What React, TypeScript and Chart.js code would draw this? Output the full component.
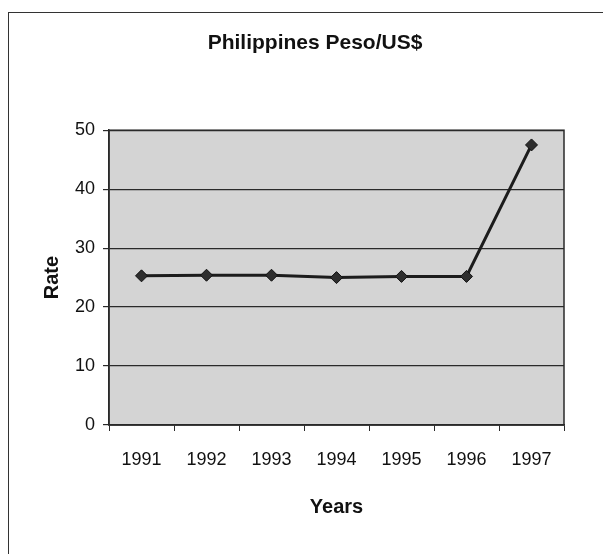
import React, { useEffect, useRef } from "react";
import { Chart, registerables } from "chart.js";

Chart.register(...registerables);

const years = ["1991", "1992", "1993", "1994", "1995", "1996", "1997"];
const rates = [25.3, 25.4, 25.4, 25.0, 25.2, 25.2, 47.5];
const titleText = "Philippines Peso/US$";
const xTitle = "Years";
const yTitle = "Rate";

const FONT = "'Liberation Sans', Arial, sans-serif";
const W = 594;
const H = 541;

const plotFrame = {
  id: "plotFrame",
  beforeDraw(chart: any) {
    const { ctx, chartArea: a } = chart;
    ctx.save();
    ctx.fillStyle = "#d4d4d4";
    ctx.fillRect(a.left, a.top, a.right - a.left, a.bottom - a.top);
    ctx.restore();
  },
  afterDatasetsDraw(chart: any) {
    const { ctx, chartArea: a } = chart;
    ctx.save();
    ctx.strokeStyle = "#2a2a2a";
    ctx.lineWidth = 1.5;
    ctx.strokeRect(a.left, a.top, a.right - a.left, a.bottom - a.top);
    ctx.restore();
  },
};

export default function App() {
  const ref = useRef<HTMLCanvasElement | null>(null);
  useEffect(() => {
    if (!ref.current) return;
    const chart = new Chart(ref.current, {
      type: "line",
      data: {
        labels: years,
        datasets: [
          {
            data: rates,
            borderColor: "#1c1c1c",
            borderWidth: 3,
            pointStyle: "rectRot",
            pointRadius: 6,
            pointBackgroundColor: "#2e2e2e",
            pointBorderColor: "#111",
            pointBorderWidth: 1,
            tension: 0,
            clip: false as any,
          },
        ],
      },
      plugins: [plotFrame],
      options: {
        animation: false,
        responsive: false,
        devicePixelRatio: 1,
        layout: { padding: { left: 18, right: 0, top: 0, bottom: 0 } },
        plugins: {
          legend: { display: false },
          tooltip: { enabled: false },
          title: {
            display: true,
            text: titleText,
            color: "#111",
            font: { family: FONT, size: 21, weight: "bold" },
            padding: { top: 18, bottom: 74 },
          },
        },
        scales: {
          x: {
            type: "category",
            offset: true,
            grid: {
              display: true,
              drawOnChartArea: false,
              offset: true,
              color: "#2a2a2a",
              tickLength: 6,
              lineWidth: 1,
            },
            border: { display: true, color: "#2a2a2a", width: 1.5 },
            ticks: {
              color: "#111",
              font: { family: FONT, size: 18 },
              padding: 18,
              maxRotation: 0,
              autoSkip: false,
            },
            title: {
              display: true,
              text: xTitle,
              color: "#111",
              font: { family: FONT, size: 20, weight: "bold" },
              padding: { top: 0, bottom: 35 },
            },
            afterFit: (s: any) => {
              s.height = 129;
            },
          },
          y: {
            type: "linear",
            position: "left",
            min: 0,
            max: 50,
            ticks: {
              stepSize: 10,
              color: "#111",
              font: { family: FONT, size: 18 },
              padding: 8,
            },
            grid: {
              color: "#2a2a2a",
              lineWidth: 1.2,
              tickLength: 6,
            },
            border: { display: true, color: "#2a2a2a", width: 1.5 },
            title: {
              display: true,
              text: yTitle,
              color: "#111",
              font: { family: FONT, size: 20, weight: "bold" },
              padding: { top: 13, bottom: 0 },
            },
            afterFit: (s: any) => {
              s.width = 82;
            },
          },
          y2: {
            type: "linear",
            position: "right",
            display: true,
            grid: { display: false, drawTicks: false },
            border: { display: false },
            ticks: { display: false },
            afterFit: (s: any) => {
              s.width = 39;
            },
          },
        },
      } as any,
    });
    return () => chart.destroy();
  }, []);

  return (
    <div
      style={{
        position: "absolute",
        left: 8,
        top: 12,
        borderLeft: "1px solid #333",
        borderTop: "1px solid #333",
        width: W,
        height: H,
        background: "#fff",
      }}
    >
      <canvas ref={ref} width={W} height={H} style={{ width: W, height: H, display: "block" }} />
    </div>
  );
}
